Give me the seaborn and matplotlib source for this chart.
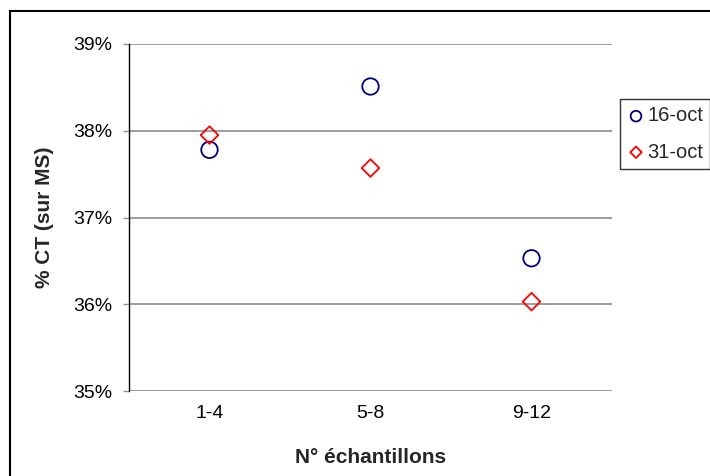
import matplotlib
matplotlib.use("Agg")
import matplotlib.pyplot as plt
import seaborn as sns
import pandas as pd
from matplotlib.patches import Rectangle
from matplotlib.ticker import FuncFormatter

categories = ["1-4", "5-8", "9-12"]
series_names = ["16-oct", "31-oct"]
values_16oct = [37.78, 38.51, 36.53]
values_31oct = [37.95, 37.57, 36.03]
yticks = [35, 36, 37, 38, 39]

sns.set_theme(style="white")
plt.rcParams["font.family"] = ["Liberation Sans", "DejaVu Sans"]

W, H = 710, 476
fig = plt.figure(figsize=(W / 100, H / 100), dpi=100)
fig.patch.set_facecolor("white")

# outer chart border (only left/top visible in the reference)
fig.add_artist(Rectangle((9.5 / W, -0.1), 1.2, 1 - 10.5 / H + 0.1,
                         transform=fig.transFigure, fill=False,
                         edgecolor="black", linewidth=1.5, clip_on=False))

ax = fig.add_axes([129 / W, 1 - 391 / H, (612 - 129) / W, (391 - 44) / H])

df16 = pd.DataFrame({"cat": categories, "val": values_16oct})
df31 = pd.DataFrame({"cat": categories, "val": values_31oct})

sns.scatterplot(data=df16, x="cat", y="val", marker="o", s=140,
                facecolor="none", edgecolor="#000080", linewidth=1.3,
                label=series_names[0], ax=ax, zorder=3)
sns.scatterplot(data=df31, x="cat", y="val", marker="D", s=80,
                facecolor="none", edgecolor="#FF0000", linewidth=1.3,
                label=series_names[1], ax=ax, zorder=3)

ax.set_xlim(-0.5, 2.5)
ax.set_ylim(35, 39)
ax.set_yticks(yticks)
ax.yaxis.set_major_formatter(FuncFormatter(lambda v, p: f"{v:.0f}%"))
ax.grid(axis="y", color="#959595", linewidth=1.3)
ax.grid(axis="x", visible=False)
ax.set_axisbelow(True)

for side in ["top", "right", "bottom"]:
    ax.spines[side].set_visible(False)
ax.spines["left"].set_color("black")
ax.spines["left"].set_linewidth(1.0)

ax.tick_params(axis="y", which="major", left=True, length=4.5, width=1.0,
               color="#959595", pad=7.5, labelsize=14, labelcolor="black")
ax.tick_params(axis="x", which="major", bottom=False, length=0, pad=10,
               labelsize=14, labelcolor="black")

ax.set_xlabel("N° échantillons", fontsize=15, fontweight="bold", labelpad=19)
ax.set_ylabel("% CT (sur MS)", fontsize=15, fontweight="bold", labelpad=14)

if ax.legend_:
    ax.legend_.remove()
leg = fig.legend(loc="center", bbox_to_anchor=(665 / W, 1 - 134 / H),
                 frameon=True, fancybox=False, edgecolor="black",
                 fontsize=14.5, handletextpad=0.1, borderpad=0.35,
                 labelspacing=0.85, handlelength=0.9, markerscale=0.65,
                 borderaxespad=0)
leg.get_frame().set_linewidth(1.0)

fig.savefig("out.png", dpi=100, facecolor="white")
